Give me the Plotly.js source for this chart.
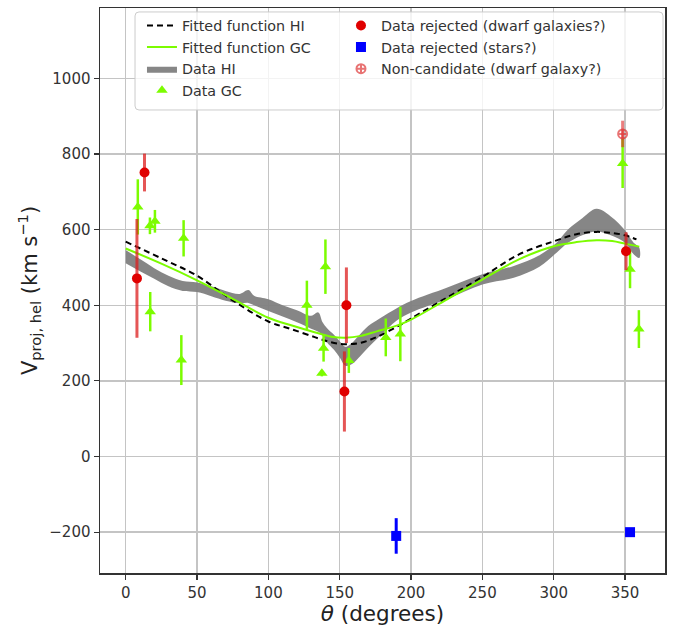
<!DOCTYPE html>
<html>
<head>
<meta charset="utf-8">
<script src="https://cdn.plot.ly/plotly-3.0.1.min.js"></script>
<style>html,body{margin:0;padding:0;background:#fff;}#chart{width:678px;height:627px;}</style>
</head>
<body>
<div id="chart"></div>
<script>
// Fitted functions
const fitTheta = [0, 25, 50, 75, 100, 116, 133, 144, 154, 165, 176, 190, 200, 225, 250, 276, 300, 316, 330, 341, 350, 358];
const hiFit    = [568, 524, 478, 413, 357, 337, 315, 302, 297, 301, 316, 343, 365, 420, 475, 535, 569, 588, 594, 591, 585, 574];
const gcFitTheta = [0, 25, 50, 75, 100, 116, 133, 144, 154, 165, 176, 190, 200, 225, 250, 276, 300, 316, 330, 341, 350, 360];
const gcFit    = [550, 510, 466, 417, 367, 347, 328, 317, 314, 319, 331, 346, 362, 415, 468, 522, 556, 567, 572, 570, 563, 555];

// HI data band
const bandTheta = [0, 10, 20, 30, 40, 50, 60, 70, 80, 86, 90, 100, 110, 120, 130, 135, 138, 141, 146, 150, 154, 158, 163, 170, 178, 190, 200, 225, 250, 272, 290, 302, 310, 320, 330, 340, 350, 356, 360];
const bandUpper = [546, 522, 498, 478, 464, 460, 450, 438, 430, 440, 425, 416, 400, 387, 372, 381, 355, 340, 322, 305, 290, 298, 318, 345, 365, 392, 411, 446, 482, 504, 532, 565, 600, 630, 655, 635, 598, 565, 552];
const bandLower = [511, 490, 470, 450, 438, 435, 424, 412, 405, 406, 400, 385, 370, 355, 338, 330, 320, 302, 282, 262, 240, 243, 260, 288, 318, 360, 381, 416, 455, 473, 502, 539, 565, 585, 595, 585, 565, 535, 525];

// GC data
const gcTheta = [8.5, 17, 20.5, 17.2, 40.6, 39, 127, 140, 138.7, 137.5, 156.4, 182.3, 192.5, 348.3, 353.5, 359.7];
const gcV     = [660, 610, 622, 383, 577, 255, 400, 502, 286, 220, 254, 315, 324, 775, 495, 337];
const gcErr   = [73, 22, 30, 52, 48, 66, 65, 72, 35, 8, 33, 50, 72, 65, 50, 50];

// Rejected (dwarf galaxies?)
const redTheta = [7.9, 13.2, 154.7, 153.3, 350.7];
const redV     = [471, 751, 400, 172, 543];
const redErr   = [157, 50, 100, 106, 50];

// Rejected (stars?)
const blueTheta = [189.6, 353.5];
const blueV     = [-210, -200];
const blueErr   = [47, 0];

// Non-candidate (dwarf galaxy?)
const ncTheta = [348.3];
const ncV     = [853];
const ncErr   = [35];

const green = '#7CFC00';

const bandX = bandTheta.concat(bandTheta.slice().reverse());
const bandY = bandUpper.concat(bandLower.slice().reverse());

const traces = [
  {x: bandX, y: bandY, type: 'scatter', mode: 'lines', fill: 'toself',
   fillcolor: 'rgba(128,128,128,0.95)', line: {width: 0, color: 'rgba(128,128,128,0.95)', shape: 'spline'},
   name: 'Data HI', legendrank: 3, legendgroup: 'g3', hoverinfo: 'skip'},
  {x: fitTheta, y: hiFit, type: 'scatter', mode: 'lines', line: {color: '#000', width: 2, dash: '6px,4px', shape: 'spline'},
   name: 'Fitted function HI', legendrank: 1, legendgroup: 'g1'},
  {x: gcFitTheta, y: gcFit, type: 'scatter', mode: 'lines', line: {color: green, width: 2, shape: 'spline'},
   name: 'Fitted function GC', legendrank: 2, legendgroup: 'g2'},
  {x: gcTheta, y: gcV, type: 'scatter', mode: 'markers',
   marker: {symbol: 'triangle-up', size: 10, color: green},
   error_y: {type: 'data', array: gcErr, visible: true, color: green, thickness: 2.5, width: 0},
   name: 'Data GC', legendrank: 4, legendgroup: 'g4'},
  {x: redTheta, y: redV, type: 'scatter', mode: 'markers',
   marker: {symbol: 'circle', size: 10, color: '#e00000'},
   error_y: {type: 'data', array: redErr, visible: true, color: 'rgba(220,30,30,0.75)', thickness: 3, width: 0},
   name: 'Data rejected (dwarf galaxies?)', legend: 'legend2', legendrank: 1, legendgroup: 'h1'},
  {x: blueTheta, y: blueV, type: 'scatter', mode: 'markers',
   marker: {symbol: 'square', size: 10, color: '#0000ff'},
   error_y: {type: 'data', array: blueErr, visible: true, color: '#0000ff', thickness: 3, width: 0},
   name: 'Data rejected (stars?)', legend: 'legend2', legendrank: 2, legendgroup: 'h2'},
  {x: ncTheta, y: ncV, type: 'scatter', mode: 'markers',
   marker: {symbol: 'circle-cross-open', size: 9, color: 'rgba(220,40,40,0.65)', line: {width: 2}},
   error_y: {type: 'data', array: ncErr, visible: true, color: 'rgba(220,40,40,0.6)', thickness: 3, width: 0},
   name: 'Non-candidate (dwarf galaxy?)', legend: 'legend2', legendrank: 3, legendgroup: 'h3'}
];

const axisCommon = {
  showline: true, mirror: true, linecolor: '#333', linewidth: 1.5,
  ticks: 'outside', ticklen: 5, tickwidth: 1.2, tickcolor: '#333',
  showgrid: true, gridcolor: '#c4c4c4', gridwidth: 1.5, zeroline: false,
  tickfont: {family: 'DejaVu Sans', size: 15, color: '#333'}
};

const legendCommon = {
  orientation: 'v', y: 0.997, xanchor: 'left', yanchor: 'top',
  bgcolor: 'rgba(0,0,0,0)', borderwidth: 0, tracegroupgap: 0,
  font: {family: 'DejaVu Sans', size: 14.3, color: '#333'}
};

// rounded legend frame (paper coords)
const bx0 = 0.062, bx1 = 0.9965, by0 = 0.8195, by1 = 0.993, rx = 0.007, ry = 0.007;
const framePath = `M ${bx0+rx} ${by0} L ${bx1-rx} ${by0} Q ${bx1} ${by0} ${bx1} ${by0+ry} L ${bx1} ${by1-ry} Q ${bx1} ${by1} ${bx1-rx} ${by1} L ${bx0+rx} ${by1} Q ${bx0} ${by1} ${bx0} ${by1-ry} L ${bx0} ${by0+ry} Q ${bx0} ${by0} ${bx0+rx} ${by0} Z`;

const layout = {
  width: 678, height: 627,
  margin: {l: 100, r: 13, t: 8, b: 54},
  paper_bgcolor: '#fff', plot_bgcolor: '#fff',
  showlegend: true,
  xaxis: Object.assign({}, axisCommon, {
    range: [-18, 378], tickvals: [0, 50, 100, 150, 200, 250, 300, 350],
    title: {text: '<i>θ</i> (degrees)', font: {family: 'DejaVu Sans', size: 21.5, color: '#222'}, standoff: 0}
  }),
  yaxis: Object.assign({}, axisCommon, {
    range: [-308, 1186], tickvals: [-200, 0, 200, 400, 600, 800, 1000],
    ticktext: ['−200', '0', '200', '400', '600', '800', '1000'],
    title: {text: 'V<sub>proj, hel</sub> (km s<sup>−1</sup>)', font: {family: 'DejaVu Sans', size: 21, color: '#222'}, standoff: 6}
  }),
  shapes: [{type: 'path', xref: 'paper', yref: 'paper', path: framePath, layer: 'above',
            fillcolor: 'rgba(255,255,255,0.8)', line: {color: '#cccccc', width: 1}}],
  legend: Object.assign({}, legendCommon, {x: 0.0743}),
  legend2: Object.assign({}, legendCommon, {x: 0.4265}),
  font: {family: 'DejaVu Sans'}
};

Plotly.newPlot('chart', traces, layout, {displayModeBar: false, staticPlot: true});
</script>
</body>
</html>
